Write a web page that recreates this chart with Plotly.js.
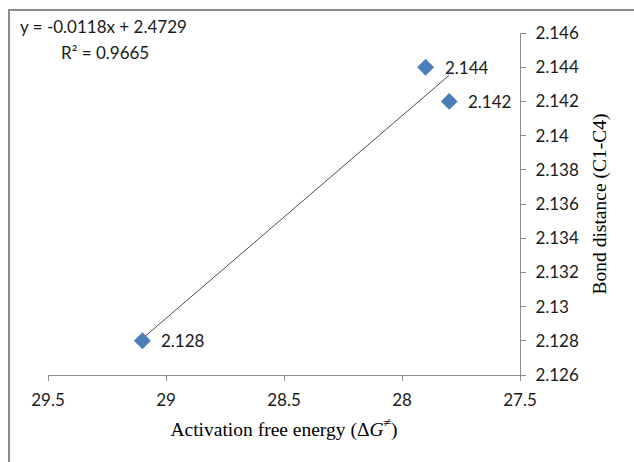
<!DOCTYPE html>
<html>
<head>
<meta charset="utf-8">
<script src="https://cdn.plot.ly/plotly-3.0.1.min.js"></script>
<style>html,body{margin:0;padding:0;background:#fff;}#chart{width:634px;height:462px;}</style>
</head>
<body>
<div id="chart"></div>
<script>
// Data
const energy = [29.1, 27.9, 27.8];          // Activation free energy (ΔG≠)
const bondDistance = [2.128, 2.144, 2.142];   // Bond distance (C1-C4)
const pointLabels = ["2.128", "2.144", "2.142"];
const xTicks = [29.5, 29, 28.5, 28, 27.5];
const yTicks = [2.126, 2.128, 2.13, 2.132, 2.134, 2.136, 2.138, 2.14, 2.142, 2.144, 2.146];
const equationText = "y = -0.0118x + 2.4729";
const r2Text = "R² = 0.9665";

// Least-squares linear trendline from the data
const n = energy.length;
const mx = energy.reduce((a, b) => a + b, 0) / n;
const my = bondDistance.reduce((a, b) => a + b, 0) / n;
let sxy = 0, sxx = 0;
for (let i = 0; i < n; i++) { sxy += (energy[i] - mx) * (bondDistance[i] - my); sxx += (energy[i] - mx) ** 2; }
const slope = sxy / sxx, intercept = my - slope * mx;
const trendX = [Math.max(...energy), Math.min(...energy)];
const trendY = trendX.map(x => slope * x + intercept);

const tickFont = {family: "Lato, 'Open Sans', sans-serif", size: 17, color: "#1a1a1a"};
const titleFont = {family: "'Liberation Serif', 'Times New Roman', serif", size: 19.5, color: "#000"};

const traces = [
  {x: trendX, y: trendY, mode: "lines", type: "scatter",
   line: {color: "#4d4d4d", width: 1}, hoverinfo: "skip", showlegend: false},
  {x: energy, y: bondDistance, mode: "markers", type: "scatter",
   marker: {symbol: "diamond", size: 13, color: "#4a7ebb"}, showlegend: false}
];

const pointAnnotations = energy.map((x, i) => ({
  x: x, y: bondDistance[i], xref: "x", yref: "y", text: pointLabels[i],
  showarrow: false, xanchor: "left", yanchor: "middle", xshift: 17, font: tickFont
}));

const layout = {
  width: 634, height: 462,
  margin: {l: 48, r: 114, t: 33, b: 87},
  paper_bgcolor: "#fff", plot_bgcolor: "#fff",
  showlegend: false,
  xaxis: {
    range: [29.5, 27.5], tickvals: xTicks, ticktext: xTicks.map(String),
    showgrid: false, zeroline: false, showline: true, linecolor: "#8c8c8c", linewidth: 1,
    ticks: "outside", ticklen: 5, tickcolor: "#8c8c8c", tickfont: tickFont, ticklabelstandoff: 5,
    title: {text: "Activation free energy (Δ<i>G</i><sup>≠</sup>)", font: titleFont, standoff: 12}
  },
  yaxis: {
    range: [2.126, 2.146], tickvals: yTicks, ticktext: yTicks.map(String), side: "right",
    showgrid: false, zeroline: false, showline: true, linecolor: "#8c8c8c", linewidth: 1,
    ticks: "outside", ticklen: 5, tickcolor: "#8c8c8c", tickfont: tickFont, ticklabelstandoff: 6,
    title: {text: "Bond distance (C1-C4)", font: titleFont, standoff: 14}
  },
  shapes: [{
    type: "rect", xref: "paper", yref: "paper",
    x0: (9 - 48) / 472, x1: 1.3, y0: -0.35, y1: (375 - 10) / 342,
    line: {color: "#8c8c8c", width: 2}, fillcolor: "rgba(0,0,0,0)", layer: "below"
  }],
  annotations: [
    {xref: "paper", yref: "paper", x: (18 - 48) / 472, y: (375 - 27) / 342, xanchor: "left", yanchor: "middle",
     text: equationText, showarrow: false, font: tickFont},
    {xref: "paper", yref: "paper", x: (59 - 48) / 472, y: (375 - 52) / 342, xanchor: "left", yanchor: "middle",
     text: r2Text, showarrow: false, font: tickFont}
  ].concat(pointAnnotations)
};

Plotly.newPlot("chart", traces, layout, {displayModeBar: false, staticPlot: true});
</script>
</body>
</html>
